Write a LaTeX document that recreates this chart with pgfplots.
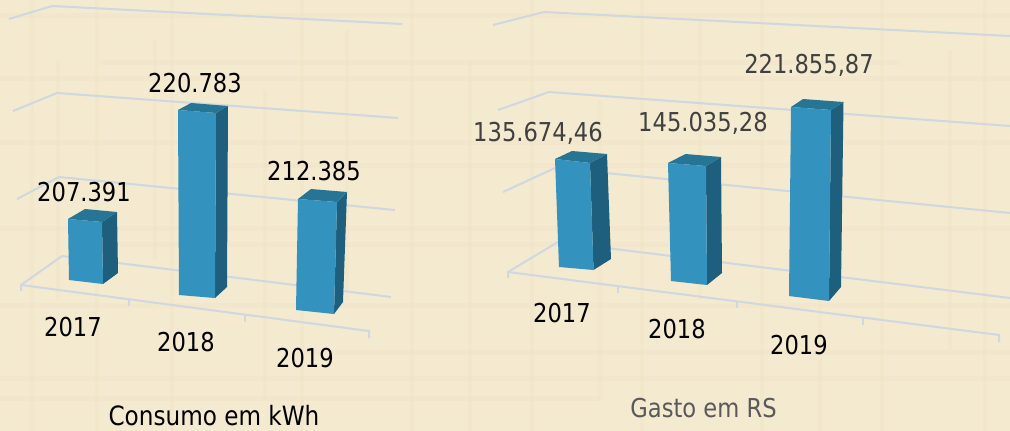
\documentclass[border=0pt]{standalone}
\usepackage{fontspec}
\setmainfont{DejaVu Sans}[FakeStretch=0.87]
\usepackage{pgfplots}
\pgfplotsset{compat=1.18}

\definecolor{paper}{HTML}{F4EAD0}
\definecolor{weave}{HTML}{D8C594}
\definecolor{gridc}{HTML}{CFD7E0}
\definecolor{front}{HTML}{3492BE}
\definecolor{side}{HTML}{1F5F7E}
\definecolor{topc}{HTML}{277594}

\pgfplotsset{
  grid3d/.style={gridc, line width=2pt, forget plot},
  weavev/.style={weave, opacity=0.07, line width=4pt, unbounded coords=jump, forget plot},
  weaveh/.style={weave, opacity=0.06, line width=5pt, unbounded coords=jump, forget plot},
  barfront/.style={fill=front, draw=none},
  barside/.style={fill=side, draw=none},
  bartop/.style={fill=topc, draw=none},
}
\tikzset{val/.style={font=\fontsize{26}{26}\selectfont, text=black, inner sep=0pt}}

\begin{document}
\begin{tikzpicture}
\begin{axis}[
    at={(0,0)}, anchor=south west,
    scale only axis,
    width=1010pt, height=431pt,
    xmin=0, xmax=1010, ymin=0, ymax=431,
    y dir=reverse,
    axis lines=none,
    clip=true,
]
% background
\addplot[fill=paper, draw=none] coordinates {(0,0) (1010,0) (1010,431) (0,431)} -- cycle;
% papyrus weave, faint bands
\addplot[weavev] coordinates {
  (32,0) (32,431) (nan,nan) (58,60) (58,300) (nan,nan) (97,0) (97,431) (nan,nan)
  (155,40) (155,260) (nan,nan) (172,0) (172,431) (nan,nan) (265,90) (265,400) (nan,nan)
  (302,0) (302,431) (nan,nan) (347,30) (347,300) (nan,nan) (412,0) (412,431) (nan,nan)
  (470,60) (470,431) (nan,nan) (532,0) (532,431) (nan,nan) (600,100) (600,400) (nan,nan)
  (642,0) (642,431) (nan,nan) (700,20) (700,300) (nan,nan) (762,0) (762,431) (nan,nan)
  (820,200) (820,431) (nan,nan) (882,0) (882,431) (nan,nan) (950,50) (950,350) (nan,nan)
  (985,0) (985,431)};
\addplot[weaveh] coordinates {
  (0,15) (1010,15) (nan,nan) (100,62) (900,62) (nan,nan) (0,78) (1010,78) (nan,nan)
  (0,142) (1010,142) (nan,nan) (200,165) (800,165) (nan,nan) (0,228) (1010,228) (nan,nan)
  (100,244) (700,244) (nan,nan) (0,305) (1010,305) (nan,nan) (300,352) (1010,352) (nan,nan)
  (0,378) (1010,378) (nan,nan) (0,398) (600,398)};

% Consumo em kWh: wall and floor lines
\addplot[grid3d] coordinates {(9,19) (52,6) (402,24)};
\addplot[grid3d] coordinates {(13,111) (57,93) (398,118)};
\addplot[grid3d] coordinates {(17,199) (59,177) (395,210)};
\addplot[grid3d] coordinates {(21,285) (62,256) (391,297)};
\addplot[grid3d] coordinates {(21,291) (21,285) (369,331) (369,338)};
\addplot[grid3d] coordinates {(129,300) (129,306)};
\addplot[grid3d] coordinates {(245,315) (245,322)};

% Gasto em RS: wall and floor lines
\addplot[grid3d] coordinates {(493,25) (544,12) (1010,36)};
\addplot[grid3d] coordinates {(498,110) (549,92) (1010,126)};
\addplot[grid3d] coordinates {(503,192) (555,168) (1010,213)};
\addplot[grid3d] coordinates {(508,272) (558,242) (1010,298)};
\addplot[grid3d] coordinates {(508,278) (508,272) (999,335) (999,342)};
\addplot[grid3d] coordinates {(618,287) (618,293)};
\addplot[grid3d] coordinates {(737,302) (737,308)};
\addplot[grid3d] coordinates {(863,318) (863,325)};

% Consumo 2017 (207.391)
\addplot[barside] coordinates {(102,222) (117,212) (118,273) (103,284)} -- cycle;
\addplot[bartop] coordinates {(68,219) (85,209) (117,212) (102,222)} -- cycle;
\addplot[barfront] coordinates {(68,219) (102,222) (103,284) (69,280)} -- cycle;
% Consumo 2018 (220.783)
\addplot[barside] coordinates {(216,113) (228,106) (227,287) (215,298)} -- cycle;
\addplot[bartop] coordinates {(178,110) (191,103) (228,106) (216,113)} -- cycle;
\addplot[barfront] coordinates {(178,110) (216,113) (215,298) (179,295)} -- cycle;
% Consumo 2019 (212.385)
\addplot[barside] coordinates {(337,202) (347,192) (343,302) (334,314)} -- cycle;
\addplot[bartop] coordinates {(298,199) (311,189) (347,192) (337,202)} -- cycle;
\addplot[barfront] coordinates {(298,199) (337,202) (334,314) (296,310)} -- cycle;

% Gasto 2017 (135.674,46)
\addplot[barside] coordinates {(590,163) (607,154) (611,259) (593.5,270)} -- cycle;
\addplot[bartop] coordinates {(555,159) (572,151) (607,154) (590,163)} -- cycle;
\addplot[barfront] coordinates {(555,159) (590,163) (593.5,270) (559,267)} -- cycle;
% Gasto 2018 (145.035,28)
\addplot[barside] coordinates {(706,166) (721,157) (722,273) (707,285)} -- cycle;
\addplot[bartop] coordinates {(668,163) (685.5,154) (721,157) (706,166)} -- cycle;
\addplot[barfront] coordinates {(668,163) (706,166) (707,285) (671,281)} -- cycle;
% Gasto 2019 (221.855,87)
\addplot[barside] coordinates {(831,110) (843.5,102) (841,287) (829,301)} -- cycle;
\addplot[bartop] coordinates {(791,107) (803,99) (843.5,102) (831,110)} -- cycle;
\addplot[barfront] coordinates {(791,107) (831,110) (829,301) (789,296)} -- cycle;

% labels
\node[val] at (axis cs:84,192) {207.391};
\node[val] at (axis cs:195,83) {220.783};
\node[val] at (axis cs:314,171) {212.385};
\node[val] at (axis cs:73,327) {2017};
\node[val] at (axis cs:186,342) {2018};
\node[val] at (axis cs:305,358) {2019};
\node[val, font=\fontsize{26.6}{27}\selectfont] at (axis cs:214,416) {Consumo em kWh};

\node[val, text=black!75] at (axis cs:538,133) {135.674,46};
\node[val, text=black!75] at (axis cs:703,123) {145.035,28};
\node[val, text=black!75] at (axis cs:809,65) {221.855,87};
\node[val] at (axis cs:562,313) {2017};
\node[val] at (axis cs:677,329) {2018};
\node[val] at (axis cs:799,345) {2019};
\node[val, text=black!65] at (axis cs:703.5,408) {Gasto em RS};
\end{axis}
\end{tikzpicture}
\end{document}
